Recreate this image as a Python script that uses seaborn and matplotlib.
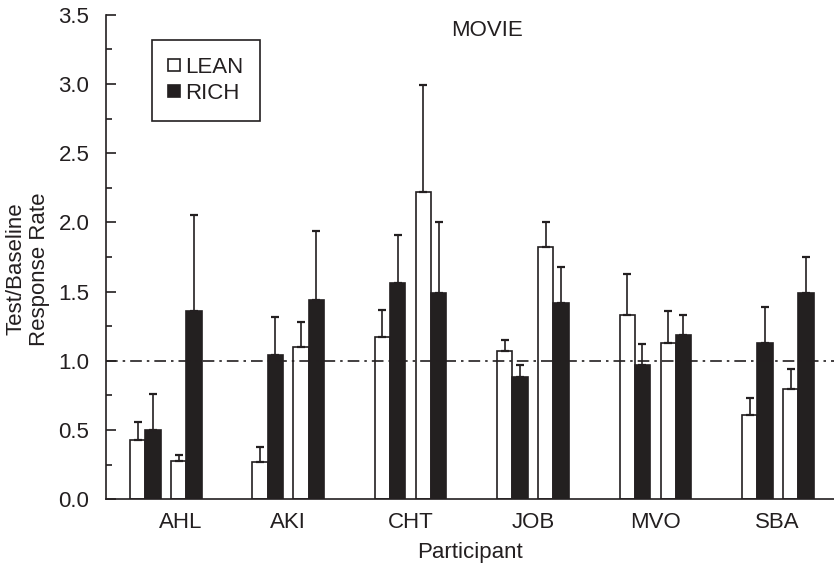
import numpy as np
import pandas as pd
import seaborn as sns
import matplotlib
matplotlib.use("Agg")
import matplotlib.pyplot as plt
from matplotlib.lines import Line2D
from matplotlib.ticker import MultipleLocator, FormatStrFormatter

# data (test/baseline response rate, upper error length)
participants = ['AHL', 'AKI', 'CHT', 'JOB', 'MVO', 'SBA']
lean1 = [0.43, 0.27, 1.17, 1.07, 1.33, 0.61]
lean1_err = [0.13, 0.11, 0.20, 0.08, 0.30, 0.12]
rich1 = [0.50, 1.04, 1.56, 0.88, 0.97, 1.13]
rich1_err = [0.26, 0.28, 0.35, 0.09, 0.15, 0.26]
lean2 = [0.28, 1.10, 2.22, 1.82, 1.13, 0.80]
lean2_err = [0.04, 0.18, 0.77, 0.18, 0.23, 0.14]
rich2 = [1.36, 1.44, 1.49, 1.42, 1.19, 1.49]
rich2_err = [0.69, 0.50, 0.51, 0.26, 0.14, 0.26]

ink = '#231f20'
fs = 16
colors = {'LEAN': 'white', 'RICH': ink}

sns.set_theme(style="ticks")
plt.rcParams['font.family'] = ['Liberation Sans', 'DejaVu Sans']
plt.rcParams['text.color'] = ink
plt.rcParams['axes.labelcolor'] = ink
plt.rcParams['xtick.color'] = ink
plt.rcParams['ytick.color'] = ink

fig, ax = plt.subplots(figsize=(8.34, 5.68), dpi=100)
fig.subplots_adjust(left=0.127, right=1.0, bottom=0.121, top=0.974)

frames = []
for phase, (lv, le, rv, re) in enumerate([(lean1, lean1_err, rich1, rich1_err),
                                          (lean2, lean2_err, rich2, rich2_err)]):
    d = pd.concat([
        pd.DataFrame({'participant': participants, 'schedule': 'LEAN', 'rate': lv, 'err': le}),
        pd.DataFrame({'participant': participants, 'schedule': 'RICH', 'rate': rv, 'err': re}),
    ], ignore_index=True)
    d['phase'] = phase
    frames.append(d)

shifts = [-0.1675, 0.1675]
for d, shift in zip(frames, shifts):
    n_before = len(ax.containers)
    sns.barplot(data=d, x='participant', y='rate', hue='schedule',
                order=participants, hue_order=['LEAN', 'RICH'],
                palette=colors, edgecolor=ink, linewidth=1.2, width=0.25, gap=0,
                errorbar=None, legend=False, ax=ax, zorder=2)
    # one container per hue level: LEAN then RICH, participants in order
    bars = [b for c in ax.containers[n_before:] for b in c]
    xs, tops = [], []
    for bar in bars:
        bar.set_x(bar.get_x() + shift)
        xs.append(bar.get_x() + bar.get_width() / 2.)
        tops.append(bar.get_height())
    errs = d['err'].values
    ax.errorbar(xs, tops, yerr=[np.zeros(len(errs)), errs], fmt='none',
                ecolor=ink, elinewidth=1.2, capsize=3, capthick=1.6, zorder=3)

ax.axhline(1.0, color=ink, lw=1.2, linestyle=(0, (7, 3, 1.5, 3)), zorder=4)

ax.set_xlim(-0.49, 5.46)
ax.set_ylim(0, 3.5)
ax.set_xticks([0.12, 1, 2, 3, 4, 5])
ax.set_xticklabels(participants)
ax.yaxis.set_major_locator(MultipleLocator(0.5))
ax.yaxis.set_minor_locator(MultipleLocator(0.25))
ax.yaxis.set_major_formatter(FormatStrFormatter('%.1f'))
ax.tick_params(axis='y', which='major', direction='in', length=7, width=1.2, pad=12, labelsize=fs)
ax.tick_params(axis='y', which='minor', direction='in', length=4, width=1.2)
ax.tick_params(axis='x', length=0, pad=9, labelsize=fs)

sns.despine(ax=ax)
for s in ['left', 'bottom']:
    ax.spines[s].set_linewidth(1.2)
    ax.spines[s].set_color(ink)

ax.set_xlabel('Participant', fontsize=fs, labelpad=7)
ax.set_ylabel('Test/Baseline\nResponse Rate', fontsize=fs, labelpad=6, linespacing=1.15)
ax.yaxis.label.set_y(0.475)
ax.text(0.523, 0.968, 'MOVIE', transform=ax.transAxes, ha='center', va='center', fontsize=fs)

handles = [Line2D([], [], marker='s', ls='', ms=8, mfc=colors[k], mec=ink, mew=1.2)
           for k in ['LEAN', 'RICH']]
leg = ax.legend(handles, ['LEAN', 'RICH'], loc='upper left', bbox_to_anchor=(0.063, 0.948),
                borderaxespad=0, fontsize=fs, handlelength=0.5, handletextpad=0.25,
                borderpad=0.75, labelspacing=0.25, fancybox=False, framealpha=1,
                edgecolor=ink)
leg.get_frame().set_linewidth(1.2)

plt.savefig("out.png", dpi=100)
